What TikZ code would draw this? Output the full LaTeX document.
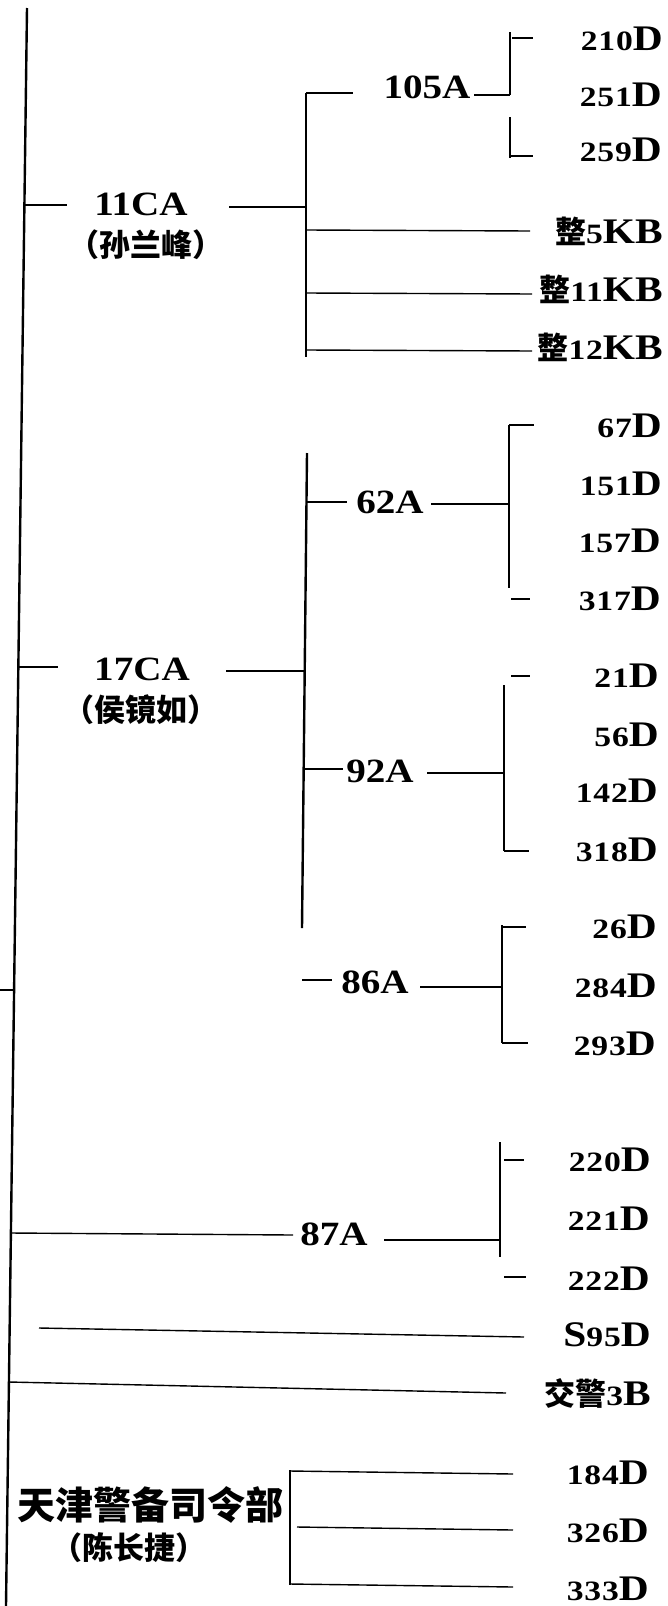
\documentclass[tikz,border=0pt]{standalone}
\usepackage{fontspec}
\setmainfont{Liberation Serif}
\newfontfamily\latA[FakeStretch=1.15]{Liberation Serif}
\newfontfamily\latB[FakeStretch=1.2,LetterSpace=3]{Liberation Serif}
\newfontfamily\cjk{Noto Sans CJK SC}
\usetikzlibrary{calc}
\newcommand\dgf{\fontsize{28}{28}\selectfont\latB\bfseries}
\newcommand\cpf{\fontsize{36}{36}\selectfont\latA\bfseries}
\newcommand\zhc[1]{{\fontsize{31}{31}\selectfont\cjk\bfseries #1}}
\newcommand\lb[2]{{\dgf #1}{\cpf #2}}
\tikzset{
  ln/.style={line width=1.4pt},
  tk/.style={line width=2.6pt},
  mainln/.style={line width=2.4pt},
  lab/.style={inner sep=0pt, anchor=base east},
  mid/.style={font=\fontsize{34}{34}\selectfont\latA\bfseries, inner sep=0pt, anchor=base},
  cn/.style={font=\fontsize{31}{31}\selectfont\cjk\bfseries, inner sep=0pt, anchor=center},
  cnbig/.style={font=\fontsize{38}{38}\selectfont\cjk\bfseries, inner sep=0pt, anchor=center},
}
\begin{document}
\begin{tikzpicture}[x=1pt,y=-1pt]
\fill[white] (0,0) rectangle (668,1606);
\useasboundingbox (0,0) rectangle (668,1606);
% main trunk
\coordinate (mtop) at (27,8);
\coordinate (mbot) at (6,1606);
\draw[mainln] (mtop) -- (mbot);
\coordinate (m11) at (24.4,205);
\coordinate (m17) at (18.3,667);
\coordinate (mL) at (14.1,990);
\coordinate (m87) at (10.9,1233);
\coordinate (mjj) at (8.9,1382);
\coordinate (lt) at (0,990);
\draw[ln] (lt) -- (mL);

% ---------- 11CA ----------
\node[mid] (ca11) at (141,215) {11CA};
\node[cn] (sun) at (146,245) {（孙兰峰）};
\coordinate (ca11a) at (67,205);
\coordinate (ca11b) at (229,207);
\coordinate (b11t) at (306,93);
\coordinate (b11c) at (306,207);
\coordinate (b11b) at (306,357);
\draw[ln] (m11) -- (ca11a);
\draw[ln] (ca11b) -- (b11c);
\draw[ln] (b11t) -- (b11b);

\node[mid] (a105) at (427,98) {105A};
\coordinate (a105a) at (353,93);
\coordinate (a105b) at (474,95);
\coordinate (b105c) at (510,95);
\coordinate (b105t) at (510,32);
\coordinate (b105m) at (510,117);
\coordinate (b105b) at (510,158);
\draw[tk] (b11t) -- (a105a);
\draw[ln] (a105b) -- (b105c);
\draw[ln] (b105t) -- (b105c);
\draw[ln] (b105m) -- (b105b);
\node[lab] (d210) at (663,50) {\lb{210}{D}};
\node[lab] (d251) at (662,106) {\lb{251}{D}};
\node[lab] (d259) at (662,161) {\lb{259}{D}};
\coordinate (t210a) at (512,38);
\coordinate (t210) at (533,38);
\coordinate (t259a) at (510,156);
\coordinate (t259) at (533,156);
\draw[tk] (t210a) -- (t210);
\draw[ln] (t259a) -- (t259);

\node[lab] (k5) at (663,243) {\zhc{整}\lb{5}{KB}};
\node[lab] (k11) at (663,301) {\zhc{整}\lb{11}{KB}};
\node[lab] (k12) at (663,359) {\zhc{整}\lb{12}{KB}};
\coordinate (k5a) at (306,230);  \coordinate (k5b) at (530,231);
\coordinate (k11a) at (306,293); \coordinate (k11b) at (532,294);
\coordinate (k12a) at (306,350); \coordinate (k12b) at (532,351);
\draw[ln] (k5a) -- (k5b);
\draw[ln] (k11a) -- (k11b);
\draw[ln] (k12a) -- (k12b);

% ---------- 17CA ----------
\node[mid] (ca17) at (142,680) {17CA};
\node[cn] (hou) at (141,710) {（侯镜如）};
\coordinate (ca17a) at (58,667);
\coordinate (ca17b) at (226,671);
\coordinate (b17t) at (307,453);
\coordinate (b17b) at (302,928);
\coordinate (b17c) at (304.7,671);
\draw[ln] (m17) -- (ca17a);
\draw[ln] (ca17b) -- (b17c);
\draw[mainln] (b17t) -- (b17b);

% 62A
\node[mid] (a62) at (390,513) {62A};
\coordinate (s62) at (306.5,502);
\coordinate (a62a) at (347,502);
\coordinate (a62b) at (431,504);
\coordinate (b62c) at (509,504);
\coordinate (b62t) at (509,425);
\coordinate (b62b) at (509,588);
\draw[tk] (s62) -- (a62a);
\draw[ln] (a62b) -- (b62c);
\draw[ln] (b62t) -- (b62b);
\coordinate (t67) at (534,425);
\draw[tk] (b62t) -- (t67);
\coordinate (t317a) at (511,599); \coordinate (t317b) at (530,599);
\draw[tk] (t317a) -- (t317b);
\node[lab] (d67) at (662,437) {\lb{67}{D}};
\node[lab] (d151) at (662,495) {\lb{151}{D}};
\node[lab] (d157) at (661,552) {\lb{157}{D}};
\node[lab] (d317) at (661,610) {\lb{317}{D}};

% 92A
\node[mid] (a92) at (380,782) {92A};
\coordinate (s92) at (303.7,769);
\coordinate (a92a) at (343,769);
\coordinate (a92b) at (427,773);
\coordinate (b92c) at (504,773);
\coordinate (b92t) at (504,685);
\coordinate (b92b) at (504,851);
\draw[tk] (s92) -- (a92a);
\draw[ln] (a92b) -- (b92c);
\draw[ln] (b92t) -- (b92b);
\coordinate (t21a) at (511,676); \coordinate (t21b) at (530,676);
\draw[tk] (t21a) -- (t21b);
\coordinate (t318) at (529,851);
\draw[tk] (b92b) -- (t318);
\node[lab] (d21) at (659,687) {\lb{21}{D}};
\node[lab] (d56) at (659,746) {\lb{56}{D}};
\node[lab] (d142) at (658,802) {\lb{142}{D}};
\node[lab] (d318) at (658,861) {\lb{318}{D}};

% 86A
\node[mid] (a86) at (375,993) {86A};
\coordinate (a86s) at (302,980);
\coordinate (a86a) at (332,980);
\coordinate (a86b) at (420,987);
\coordinate (b86c) at (502,987);
\coordinate (b86t) at (502,925);
\coordinate (b86b) at (502,1043);
\draw[tk] (a86s) -- (a86a);
\draw[ln] (a86b) -- (b86c);
\draw[ln] (b86t) -- (b86b);
\coordinate (t26a) at (502,927);
\coordinate (t26) at (526,927);
\coordinate (t293) at (528,1043);
\draw[tk] (t26a) -- (t26);
\draw[tk] (b86b) -- (t293);
\node[lab] (d26) at (657,938) {\lb{26}{D}};
\node[lab] (d284) at (657,997) {\lb{284}{D}};
\node[lab] (d293) at (656,1055) {\lb{293}{D}};

% ---------- 87A ----------
\node[mid] (a87) at (334,1245) {87A};
\coordinate (a87a) at (293,1235);
\coordinate (a87b) at (384,1240);
\coordinate (b87c) at (500,1240);
\coordinate (b87t) at (500,1142);
\coordinate (b87b) at (500,1257);
\draw[ln] (m87) -- (a87a);
\draw[ln] (a87b) -- (b87c);
\draw[ln] (b87t) -- (b87b);
\coordinate (t220a) at (504,1160); \coordinate (t220b) at (524,1160);
\coordinate (t222a) at (504,1277); \coordinate (t222b) at (526,1277);
\draw[tk] (t220a) -- (t220b);
\draw[tk] (t222a) -- (t222b);
\node[lab] (d220) at (651,1171) {\lb{220}{D}};
\node[lab] (d221) at (650,1230) {\lb{221}{D}};
\node[lab] (d222) at (650,1290) {\lb{222}{D}};

% ---------- S95D, 交警3B ----------
\node[lab] (s95) at (651,1346) {{\cpf S}\lb{95}{D}};
\coordinate (s95a) at (39,1328); \coordinate (s95b) at (524,1337);
\draw[ln] (s95a) -- (s95b);
\node[lab] (j3b) at (651,1405) {\zhc{交警}\lb{3}{B}};
\coordinate (j3bb) at (506,1393);
\draw[ln] (mjj) -- (j3bb);

% ---------- 天津警备司令部 ----------
\node[cnbig] (tj) at (150,1505) {天津警备司令部};
\node[cn] (chen) at (129,1548) {（陈长捷）};
\coordinate (btjt) at (290,1470);
\coordinate (btjb) at (290,1585);
\draw[ln] (btjt) -- (btjb);
\coordinate (l184a) at (290,1471); \coordinate (l184) at (513,1474);
\coordinate (l326a) at (297,1527); \coordinate (l326) at (513,1530);
\coordinate (l333a) at (290,1584); \coordinate (l333) at (513,1587);
\draw[ln] (l184a) -- (l184);
\draw[ln] (l326a) -- (l326);
\draw[ln] (l333a) -- (l333);
\node[lab] (d184) at (649,1484) {\lb{184}{D}};
\node[lab] (d326) at (649,1542) {\lb{326}{D}};
\node[lab] (d333) at (649,1600) {\lb{333}{D}};
\end{tikzpicture}
\end{document}
